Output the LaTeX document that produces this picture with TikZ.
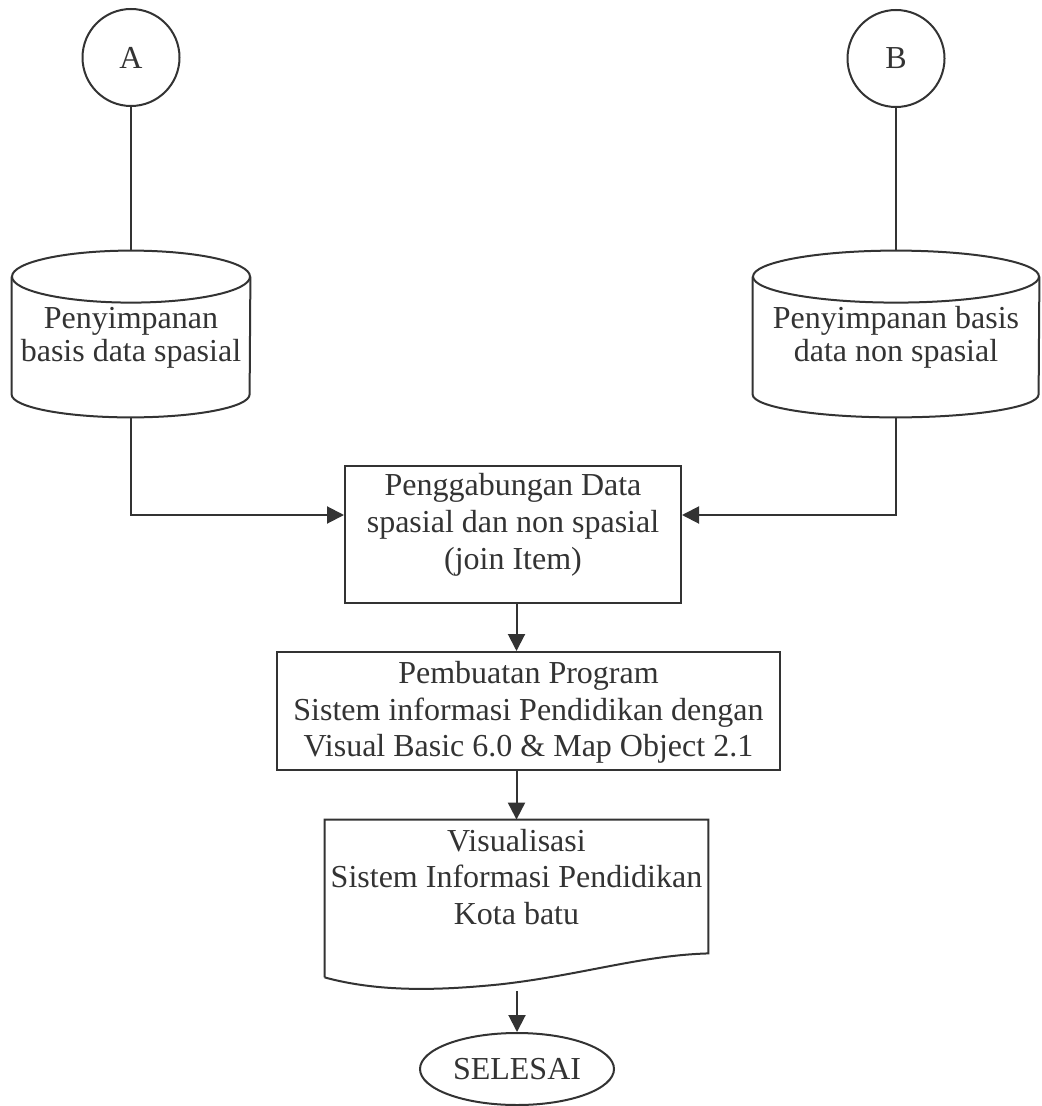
\documentclass[tikz,border=0pt]{standalone}
\usepackage{fontspec}
\setmainfont{Liberation Serif}
\usetikzlibrary{arrows.meta,shapes.geometric,calc}
\definecolor{Ink}{HTML}{333333}
\definecolor{Paper}{HTML}{FFFFFF}

\begin{document}
\begin{tikzpicture}[x=0.5pt,y=-0.5pt,font=\fontsize{16}{18.4}\selectfont, outline/.style={draw=Ink,line width=1pt}, conn/.style={outline,circle,minimum size=48.5pt,inner sep=0pt,text=Ink}, store/.style={align=center,inner sep=0pt,minimum height=83pt,text=Ink,font=\fontsize{16}{16.5}\selectfont}, proc/.style={outline,align=center,inner sep=0pt,text=Ink}, arrow/.style={outline,-{Triangle[length=8.5pt,width=8.5pt]}}]
\useasboundingbox[fill=Paper] (0,0) rectangle (1041,1106);
\node[conn] (A) at (131,57.5) {A};\node[conn] (B) at (896,58.5) {B};
\node[store,minimum width=119pt,text depth=-5pt] (cylA) at (131,334) {Penyimpanan\\basis data spasial};
\node[store,minimum width=143pt,text depth=-5pt] (cylB) at (896,334) {Penyimpanan basis\\data non spasial};
\draw[outline] ($(cylA.north)+(0,26)$) ellipse [x radius=119, y radius=26];
\draw[outline] ($(cylA.north west)+(0,26)$) -- ($(cylA.south west)+(0,-23)$) arc [start angle=180, end angle=0, x radius=119, y radius=23] -- ($(cylA.north east)+(0,26)$);
\draw[outline] ($(cylB.north)+(0,26)$) ellipse [x radius=143, y radius=26];
\draw[outline] ($(cylB.north west)+(0,26)$) -- ($(cylB.south west)+(0,-23)$) arc [start angle=180, end angle=0, x radius=143, y radius=23] -- ($(cylB.north east)+(0,26)$);
\node[proc,minimum width=168pt,minimum height=68.5pt,text depth=13pt] (join) at (513,534.5) {Penggabungan Data\\spasial dan non spasial\\(join Item)};
\node[proc,minimum width=251.5pt,minimum height=59pt,text depth=2pt] (prog) at (528.5,711) {Pembuatan Program\\Sistem informasi Pendidikan dengan\\Visual Basic 6.0 \& Map Object 2.1};
\node[align=center,inner sep=0pt,minimum width=191.5pt,minimum height=66.5pt,text depth=9.7pt,text=Ink] (doc) at (516.5,886.5) {Visualisasi\\Sistem Informasi Pendidikan\\Kota batu};
\draw[outline] ($(doc.south west)+(0,24)$) -- (doc.north west) -- (doc.north east) -- (doc.south east) .. controls ($(doc.south east)+(-68,2)$) and ($(doc.south east)+(-128,22)$) .. ($(doc.south west)+(175,31)$) .. controls ($(doc.south west)+(115,37)$) and ($(doc.south west)+(55,39)$) .. ($(doc.south west)+(0,24)$);
\coordinate (docend) at (517,991);
\node[outline,ellipse,minimum width=97pt,minimum height=36pt,inner sep=0pt,text=Ink] (finish) at (517,1069) {SELESAI};
\draw[outline] (A.south) -- (cylA.north);\draw[outline] (B.south) -- (cylB.north);
\draw[arrow] (cylA.south) |- ([yshift=9.75pt]join.west);\draw[arrow] (cylB.south) |- ([yshift=9.75pt]join.east);
\draw[arrow] (join.south -| doc.north) -- (doc.north |- prog.north);\draw[arrow] (doc.north |- prog.south) -- (doc.north);
\draw[arrow] (docend) -- (finish.north);
\end{tikzpicture}
\end{document}
